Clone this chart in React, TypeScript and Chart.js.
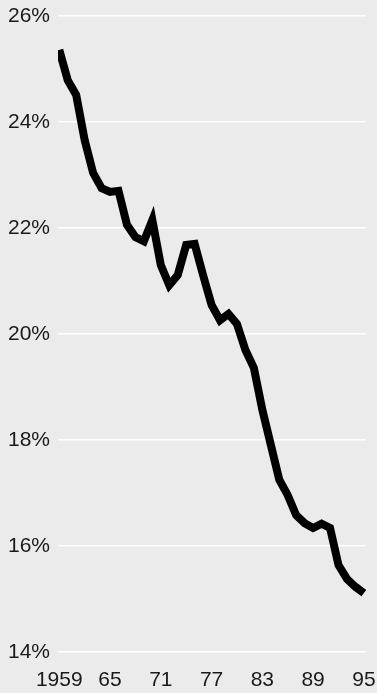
import React, { useEffect, useRef } from "react";
import { Chart, registerables } from "chart.js";

Chart.register(...registerables);

const years: number[] = Array.from({ length: 37 }, (_, i) => 1959 + i);
const shares: number[] = [
  25.36, 24.79, 24.51, 23.66, 23.04, 22.75, 22.68, 22.7, 22.06, 21.83,
  21.75, 22.15, 21.3, 20.92, 21.11, 21.68, 21.7, 21.11, 20.55, 20.26,
  20.38, 20.19, 19.7, 19.36, 18.57, 17.91, 17.25, 16.96, 16.58, 16.43,
  16.34, 16.42, 16.34, 15.64, 15.38, 15.23, 15.11,
];
const xTicks: number[] = [1959, 1965, 1971, 1977, 1983, 1989, 1995];
const yTicks: number[] = [14, 16, 18, 20, 22, 24, 26];

const FONT = '"Liberation Sans", Arial, Helvetica, sans-serif';

export default function App() {
  const ref = useRef<HTMLCanvasElement | null>(null);

  useEffect(() => {
    document.body.style.margin = "0";
    document.body.style.background = "#ebebeb";
    const canvas = ref.current;
    if (!canvas) return;
    const chart = new Chart(canvas, {
      type: "line",
      data: {
        datasets: [
          {
            data: years.map((y, i) => ({ x: y, y: shares[i] })),
            borderColor: "#000000",
            borderWidth: 8,
            borderJoinStyle: "miter",
            borderCapStyle: "butt",
            pointRadius: 0,
            tension: 0,
            fill: false,
          },
        ],
      },
      options: {
        animation: false,
        responsive: false,
        maintainAspectRatio: false,
        layout: { padding: { left: 8, right: 11, top: 16, bottom: 0 } },
        plugins: {
          legend: { display: false },
          tooltip: { enabled: false },
        },
        scales: {
          x: {
            type: "linear",
            min: 1958.85,
            max: 1995.25,
            afterBuildTicks: (scale: any) => {
              scale.ticks = xTicks.map((v) => ({ value: v }));
            },
            afterFit: (scale: any) => {
              scale.paddingLeft = 0;
              scale.paddingRight = 0;
              scale.height = 41;
            },
            grid: { display: false, drawTicks: false },
            border: { display: false },
            ticks: {
              autoSkip: false,
              maxRotation: 0,
              padding: 16,
              color: "#1a1a1a",
              font: { family: FONT, size: 21 },
              callback: (v: any) => {
                const n = Number(v);
                return n === 1959 ? "1959" : String(n % 100).padStart(2, "0");
              },
            },
          },
          y: {
            min: 14,
            max: 26,
            afterBuildTicks: (scale: any) => {
              scale.ticks = yTicks.map((v) => ({ value: v }));
            },
            afterFit: (scale: any) => {
              scale.paddingTop = 0;
              scale.paddingBottom = 0;
              scale.width = 50;
            },
            grid: { color: "#ffffff", lineWidth: 1.5, drawTicks: false },
            border: { display: false },
            ticks: {
              padding: 8,
              color: "#1a1a1a",
              font: { family: FONT, size: 21 },
              callback: (v: any) => `${v}%`,
            },
          },
        },
      },
    });
    return () => chart.destroy();
  }, []);

  return (
    <div style={{ width: 377, height: 693, background: "#ebebeb" }}>
      <canvas ref={ref} width={377} height={693} style={{ display: "block" }} />
    </div>
  );
}
